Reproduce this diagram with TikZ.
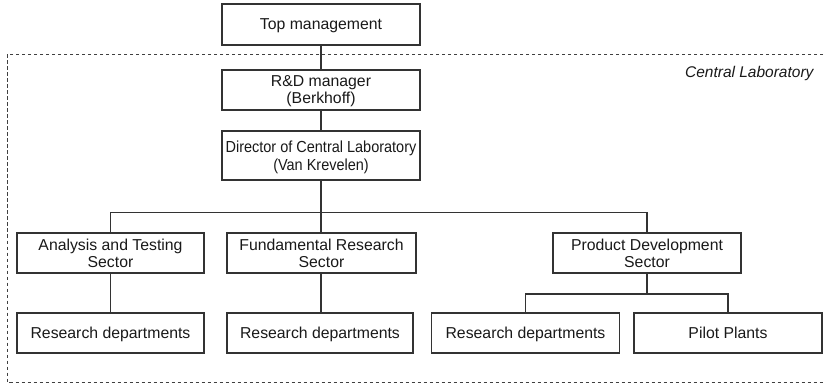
\documentclass[tikz,border=0pt]{standalone}
\usepackage{fontspec}
\setmainfont{Liberation Sans}
\newfontfamily\narrowsans[FakeStretch=0.905]{Liberation Sans}
\begin{document}
\begin{tikzpicture}[x=1pt,y=-1pt,
  box/.style={draw=black!80,line width=1.2pt,inner sep=0pt,align=center,
    font=\fontsize{15.8}{17}\selectfont,text=black!90,text depth=0pt},
  twoline/.style={text depth=-3.5pt},
  conn/.style={draw=black!80,line width=1.1pt},
  frame/.style={draw=black!75,line width=0.8pt,dash pattern=on 3.5pt off 2.5pt}]
\useasboundingbox (0,0) rectangle (826,387);
\draw[frame] (823,54) -- (7.5,54) -- (7.5,382.5) -- (823,382.5);
\node[anchor=base east,font=\fontsize{15.5}{18}\selectfont\itshape,text=black!90] (cl) at (817,78) {Central Laboratory};
\node[box,minimum width=198pt,minimum height=41pt] (top) at (321,24.5) {Top management};
\node[box,twoline,minimum width=198pt,minimum height=40pt] (rd) at (321,90) {R\&D manager\\(Berkhoff)};
\node[box,minimum width=198pt,minimum height=49pt,font=\narrowsans\fontsize{16}{18}\selectfont,text depth=-5.5pt] (dir) at (321,155.5) {Director of Central Laboratory\\(Van Krevelen)};
\node[box,twoline,minimum width=187pt,minimum height=40pt] (ana) at (110.5,253) {Analysis and Testing\\Sector};
\node[box,twoline,minimum width=189pt,minimum height=40pt] (fun) at (321.5,253) {Fundamental Research\\Sector};
\node[box,twoline,minimum width=188pt,minimum height=40pt] (pd) at (647,253) {Product Development\\Sector};
\node[box,minimum width=187pt,minimum height=40pt] (rd1) at (110.5,333) {Research departments};
\node[box,minimum width=186pt,minimum height=40pt] (rd2) at (320,333) {Research departments};
\node[box,minimum width=188pt,minimum height=40pt] (rd3) at (525.5,333) {Research departments};
\node[box,minimum width=188pt,minimum height=40pt] (pp) at (728,333) {Pilot Plants};
\coordinate (bus) at (321,212.7);
\coordinate (sub) at (647,294);
\draw[conn] (top.south) -- (rd.north);
\draw[conn] (rd.south) -- (dir.north);
\draw[conn] (dir.south) -- (fun.north -| dir.south);
\draw[conn] (ana.north) |- (bus) -| (pd.north);
\draw[conn] (ana.south) -- (rd1.north);
\draw[conn] (fun.south -| dir.south) -- (rd2.north -| dir.south);
\draw[conn] (pd.south) -- (sub);
\draw[conn] (rd3.north) |- (sub) -| (pp.north);
\end{tikzpicture}
\end{document}
